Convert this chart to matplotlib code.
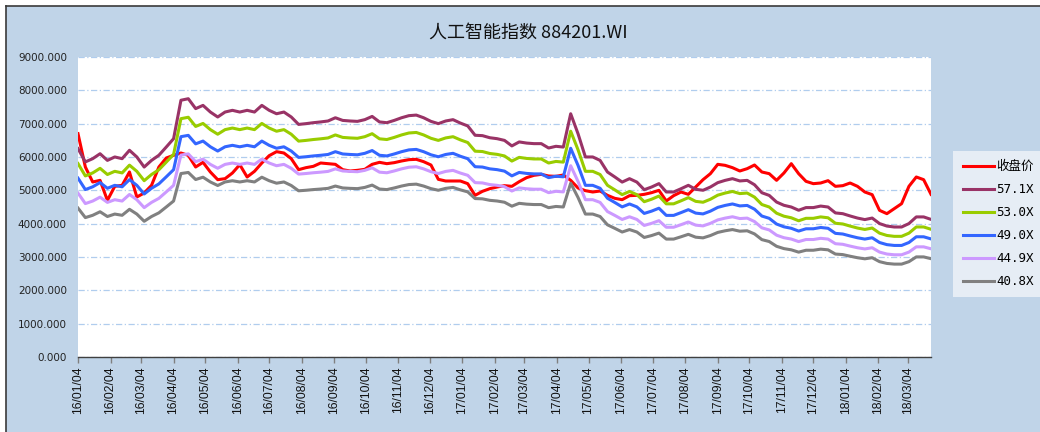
import matplotlib
matplotlib.use('Agg')
import matplotlib.pyplot as plt
import matplotlib.dates as mdates
from matplotlib.patches import Rectangle
from matplotlib.lines import Line2D
import numpy as np
import pandas as pd

plt.rcParams['font.family'] = ['DejaVu Sans', 'Noto Sans CJK SC']

# ---------------- data ----------------
title_text = '人工智能指数 884201.WI'
start_date = '2016-01-04'          # weekly observations (Mondays)
close_label = '收盘价'

close_price = [
    6700, 5700, 5250, 5300, 4700, 5120, 5150, 5550, 4800, 4920,
    5150, 5700, 5970, 6050, 6120, 6050, 5700, 5840, 5550, 5320,
    5350, 5520, 5770, 5400, 5570, 5820, 6040, 6160, 6120, 5950,
    5620, 5680, 5720, 5820, 5800, 5780, 5620, 5580, 5600, 5630,
    5780, 5840, 5800, 5830, 5880, 5920, 5930, 5860, 5760, 5330,
    5280, 5280, 5280, 5200, 4850, 4970, 5050, 5100, 5140, 5120,
    5260, 5380, 5450, 5480, 5430, 5420, 5460, 5300, 5070, 4990,
    4950, 4980, 4850, 4760, 4720, 4840, 4850, 4880, 4930, 5000,
    4680, 4840, 4950, 4880, 5100, 5320, 5500, 5780, 5750, 5680,
    5580, 5650, 5760, 5550, 5500, 5300, 5520, 5800, 5500, 5270,
    5200, 5220, 5290, 5120, 5140, 5220, 5120, 4950, 4870, 4400,
    4300, 4450, 4600, 5120, 5400, 5320, 4880,
]

# earnings per share (index points) underlying the PE bands
eps = [
    109.5, 102.5, 104.2, 106.8, 103.3, 105.1, 104.2, 108.6, 105.1, 99.8,
    103.3, 106.0, 110.3, 114.7, 134.9, 135.7, 130.5, 132.2, 128.7, 126.1,
    128.7, 129.6, 128.7, 129.6, 128.7, 132.2, 129.6, 127.8, 128.7, 126.1,
    122.2, 122.6, 123.1, 123.5, 124.0, 125.7, 124.3, 124.0, 123.8, 124.7,
    126.4, 123.5, 123.1, 124.3, 125.7, 126.8, 127.1, 125.7, 123.8, 122.6,
    124.0, 124.7, 122.9, 121.4, 116.5, 116.3, 115.2, 114.7, 113.8, 110.9,
    113.0, 112.4, 112.1, 112.1, 109.8, 110.7, 110.3, 127.8, 117.3, 105.1,
    105.1, 103.3, 97.2, 94.6, 91.9, 93.7, 91.9, 87.9, 89.3, 91.1,
    86.7, 86.7, 88.4, 90.2, 88.1, 87.6, 89.3, 91.6, 92.8, 93.7,
    92.5, 92.8, 90.5, 86.3, 84.9, 81.4, 79.7, 78.8, 77.1, 78.5,
    78.5, 79.3, 78.8, 75.7, 75.3, 74.1, 73.0, 72.2, 73.0, 70.1,
    68.8, 68.3, 68.3, 70.1, 73.6, 73.6, 72.3,
]

pe_multiples = [57.1, 53.0, 49.0, 44.9, 40.8]
band_labels = ['57.1X', '53.0X', '49.0X', '44.9X', '40.8X']

x_start = '2016-01-04'
x_end = '2018-03-26'
tick_first = '2016-01-04'
tick_last = '2018-03-04'
y_ticks = [0, 1000, 2000, 3000, 4000, 5000, 6000, 7000, 8000, 9000]

# ---------------- styling ----------------
close_color = '#FF0000'
band_colors = ['#993366', '#99CC00', '#3366FF', '#CC99FF', '#808080']
bg_color = '#C0D4E8'

W, H = 1040, 432
fig = plt.figure(figsize=(W / 100, H / 100), dpi=100, facecolor='white')

# outer frame
fig.patches.append(Rectangle((6 / W, 0), 1 - 6 / W, 1 - 6 / H, transform=fig.transFigure,
                             facecolor=bg_color, edgecolor='none', zorder=-5))
fig.lines.append(Line2D([6 / W, 6 / W], [0, 1 - 6 / H], transform=fig.transFigure,
                        color='#3a3a3a', lw=1.2, zorder=-4))
fig.lines.append(Line2D([6 / W, 1], [1 - 6 / H, 1 - 6 / H], transform=fig.transFigure,
                        color='#3a3a3a', lw=1.2, zorder=-4))

ax = fig.add_axes([78 / W, (H - 357) / H, (931 - 78) / W, 300 / H])
ax.set_zorder(1)
ax.set_facecolor('white')

dates = pd.date_range(start_date, periods=len(close_price), freq='7D')
eps_arr = np.array(eps)

ax.plot(dates, close_price, color=close_color, lw=2.2, label=close_label, zorder=3,
        solid_joinstyle='round')
for m, lab, col in zip(pe_multiples, band_labels, band_colors):
    ax.plot(dates, eps_arr * m, color=col, lw=2.2, label=lab, zorder=4,
            solid_joinstyle='round')

ax.set_xlim(pd.Timestamp(x_start), pd.Timestamp(x_end))
ax.set_ylim(0, 9000)

for s in ['left', 'right', 'top']:
    ax.spines[s].set_visible(False)
ax.spines['bottom'].set_color('#404040')
ax.spines['bottom'].set_linewidth(1.0)

ax.set_yticks(y_ticks)
ax.set_yticklabels([f'{v:.3f}' for v in y_ticks])
ax.tick_params(axis='y', length=0, pad=8, labelsize=7.5, labelcolor='#222222')
ax.yaxis.grid(True, color='#B0CDEE', linestyle=(0, (5, 2, 1, 2)), lw=0.9)
ax.set_axisbelow(True)

tick_dates = pd.date_range(tick_first, tick_last, freq=pd.DateOffset(months=1))
ax.set_xticks(tick_dates)
ax.xaxis.set_major_formatter(mdates.DateFormatter('%y/%m/%d'))
ax.tick_params(axis='x', rotation=90, length=4, width=1, color='#808080',
               labelsize=8.7, pad=3, labelcolor='#111111')
for lbl in ax.get_xticklabels():
    lbl.set_family(['Liberation Sans', 'DejaVu Sans'])

fig.text(528 / W, 1 - 33 / H, title_text, ha='center', va='center', fontsize=13,
         family=['Noto Sans CJK SC', 'DejaVu Sans'], color='#111111')

leg = fig.legend(loc='center left', bbox_to_anchor=(947 / W, (H - 224) / H),
                 bbox_transform=fig.transFigure, frameon=True, fancybox=False,
                 handlelength=2.5, handletextpad=0.2, labelspacing=0.8,
                 borderpad=0.75, prop={'family': ['DejaVu Sans Mono', 'Noto Sans CJK SC'],
                                       'size': 9})
leg.get_frame().set_facecolor('#E6EDF5')
leg.get_frame().set_edgecolor('none')
leg.get_frame().set_alpha(1)
leg.set_zorder(5)

fig.savefig('out.png', dpi=100, facecolor=fig.get_facecolor())
